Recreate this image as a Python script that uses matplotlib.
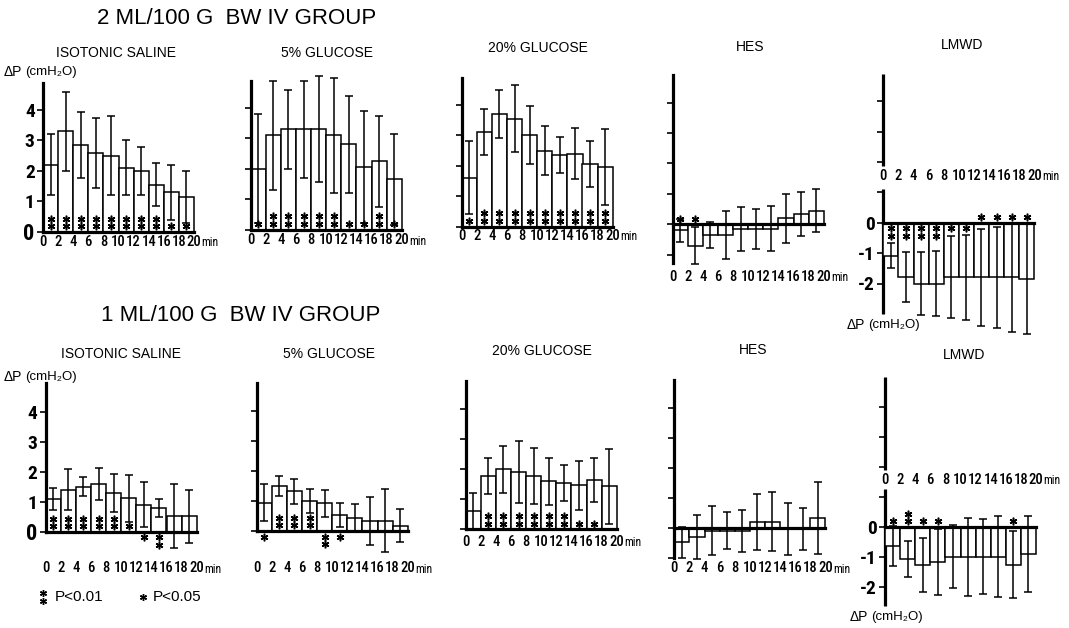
import matplotlib
matplotlib.use('Agg')
import matplotlib.pyplot as plt
from matplotlib.lines import Line2D
import numpy as np

W, H = 1069, 628
NUM = ['Roboto Condensed', 'DejaVu Sans']
TXT = ['Liberation Sans', 'DejaVu Sans']

# ---------------- data ----------------
bar_starts = [0, 2, 4, 6, 8, 10, 12, 14, 16, 18]
xtick_vals = [0, 2, 4, 6, 8, 10, 12, 14, 16, 18, 20]

row_titles = ['2 ML/100 G  BW IV GROUP', '1 ML/100 G  BW IV GROUP']
panel_titles = ['ISOTONIC SALINE', '5% GLUCOSE', '20% GLUCOSE', 'HES', 'LMWD']

# 2 ml/100 g group
sal2_mean = [2.2, 3.3, 2.85, 2.6, 2.5, 2.1, 2.0, 1.55, 1.3, 1.15]
sal2_sd = [1.0, 1.3, 1.1, 1.15, 1.3, 0.9, 0.8, 0.7, 0.9, 0.85]
sal2_sig = ['**', '**', '**', '**', '**', '**', '**', '**', '*', '*']
sal2_dir = [1, 1, 1, 1, 1, 1, 1, 1, 1, 1]

g5_2_mean = [2.0, 3.1, 3.3, 3.3, 3.3, 3.1, 2.8, 2.05, 2.25, 1.65]
g5_2_sd = [1.8, 1.8, 1.3, 1.6, 1.75, 1.9, 1.6, 1.85, 1.5, 1.5]
g5_2_sig = ['*', '**', '**', '**', '**', '**', '*', '*', '**', '*']
g5_2_dir = [1, 1, 1, 1, 1, 1, 1, 1, 1, 1]

g20_2_mean = [1.6, 3.1, 3.7, 3.55, 3.0, 2.5, 2.35, 2.4, 2.05, 1.95]
g20_2_sd = [1.2, 0.75, 0.8, 1.1, 0.95, 0.8, 0.6, 0.85, 0.75, 1.25]
g20_2_sig = ['*', '**', '**', '**', '**', '**', '**', '**', '**', '**']
g20_2_dir = [1, 1, 1, 1, 1, 1, 1, 1, 1, 1]

hes2_mean = [-0.2, -0.7, -0.35, -0.35, -0.15, -0.15, -0.15, 0.2, 0.35, 0.45]
hes2_sd = [0.37, 0.62, 0.42, 0.78, 0.73, 0.66, 0.74, 0.8, 0.72, 0.7]
hes2_sig = ['*', '*', '', '', '', '', '', '', '', '']
hes2_dir = [1, 1, 1, 1, 1, 1, 1, 1, 1, 1]

lm2_mean = [-1.08, -1.8, -2.0, -2.0, -1.8, -1.8, -1.8, -1.8, -1.8, -1.85]
lm2_sd = [0.42, 0.82, 1.05, 1.07, 1.35, 1.4, 1.6, 1.65, 1.8, 1.8]
lm2_sig = ['**', '**', '**', '**', '*', '*', '*', '*', '*', '*']
lm2_dir = [-1, -1, -1, -1, -1, -1, 1, 1, 1, 1]

# 1 ml/100 g group
sal1_mean = [1.1, 1.4, 1.5, 1.6, 1.28, 1.12, 0.9, 0.8, 0.52, 0.52]
sal1_sd = [0.37, 0.68, 0.32, 0.53, 0.63, 0.78, 0.75, 0.3, 1.07, 0.88]
sal1_sig = ['**', '**', '**', '**', '**', '*', '*', '**', '', '']
sal1_dir = [1, 1, 1, 1, 1, 1, -1, -1, 1, 1]

g5_1_mean = [0.95, 1.5, 1.32, 1.0, 0.92, 0.54, 0.45, 0.35, 0.35, 0.17]
g5_1_sd = [0.62, 0.32, 0.41, 0.4, 0.46, 0.39, 0.45, 0.8, 1.05, 0.55]
g5_1_sig = ['*', '**', '**', '**', '**', '*', '', '', '', '']
g5_1_dir = [-1, 1, 1, 1, -1, -1, 1, 1, 1, 1]

g20_1_mean = [0.62, 1.78, 2.0, 1.9, 1.78, 1.6, 1.53, 1.46, 1.64, 1.44]
g20_1_sd = [0.6, 0.6, 0.78, 1.03, 0.93, 0.78, 0.6, 0.82, 0.72, 1.25]
g20_1_sig = ['', '**', '**', '**', '**', '**', '**', '*', '*', '']
g20_1_dir = [1, 1, 1, 1, 1, 1, 1, 1, 1, 1]

hes1_mean = [-0.47, -0.29, -0.08, -0.08, -0.08, 0.22, 0.22, -0.02, -0.02, 0.33]
hes1_sd = [0.52, 0.74, 0.82, 0.62, 0.7, 0.93, 0.98, 0.86, 0.7, 1.2]
hes1_sig = ['', '', '', '', '', '', '', '', '', '']
hes1_dir = [1, 1, 1, 1, 1, 1, 1, 1, 1, 1]

lm1_mean = [-0.63, -1.07, -1.27, -1.18, -1.0, -1.0, -1.0, -1.0, -1.27, -0.92]
lm1_sd = [0.67, 0.61, 0.9, 1.1, 1.05, 1.3, 1.25, 1.35, 1.12, 1.27]
lm1_sig = ['*', '**', '*', '*', '', '', '', '', '*', '']
lm1_dir = [1, 1, 1, 1, 1, 1, 1, 1, 1, 1]

pos_ticks = [4, 3, 2, 1, 0]
pos_labels = ['4', '3', '2', '1', '0']
hes_ticks = [4, 3, 2, 1, 0, -1]
lm_ticks = [4, 3, 2, 1, 0, -1, -2]
lm_labels = ['', '', '', '', '0', '-1', '-2']

# ---------------- layout ----------------
SX = 7.55          # px per minute
YMIN, YMAX = -4.0, 5.2

fig = plt.figure(figsize=(W / 100, H / 100), dpi=100)


def fx(px):
    return px / W


def fy(py):
    return 1 - py / H


def panel(x0, zero, sy, mean, sd, sig, sdir, spine, ticks, labels,
          xlab_y, kind='pos', gap=None):
    left = x0 / W
    width = 23 * SX / W
    bottom = 1 - (zero + (-YMIN) * sy) / H
    height = (YMAX - YMIN) * sy / H
    ax = fig.add_axes([left, bottom, width, height])
    ax.patch.set_visible(False)
    ax.set_xlim(0, 23)
    ax.set_ylim(YMIN, YMAX)
    for s in ['top', 'right']:
        ax.spines[s].set_visible(False)
    ax.spines['bottom'].set_position(('data', 0))
    ax.spines['bottom'].set_bounds(0, 20)
    ax.spines['bottom'].set_linewidth(2.3)
    ax.spines['bottom'].set_zorder(2.5)
    if gap is None:
        ax.spines['left'].set_bounds(*spine)
        ax.spines['left'].set_linewidth(2.3)
    else:
        ax.spines['left'].set_visible(False)
        ax.plot([0, 0], [gap[1], spine[1]], color='black', lw=2.3,
                solid_capstyle='butt', clip_on=False)
        ax.plot([0, 0], [spine[0], gap[0]], color='black', lw=2.3,
                solid_capstyle='butt', clip_on=False)
    ax.set_xticks([])
    ax.set_yticks(ticks)
    ax.set_yticklabels(labels, fontfamily=NUM, fontsize=14,
                       fontweight='bold')
    for t in ax.get_yticklabels():
        if t.get_text() == '0' and kind == 'pos':
            t.set_fontsize(16)
    ax.tick_params(axis='y', direction='out', length=4, width=1.2, pad=2)

    x = np.array(bar_starts)
    ax.bar(x, mean, width=2, align='edge', facecolor='white',
           edgecolor='black', lw=1.1, zorder=2, clip_on=False)
    eb = ax.errorbar(x + 1, mean, yerr=sd, fmt='none', ecolor='black',
                     elinewidth=1.1, capsize=3, capthick=1.1, zorder=3)
    for child in eb.get_children():
        child.set_clip_on(False)

    for i, (s, d) in enumerate(zip(sig, sdir)):
        for k in range(len(s)):
            ax.plot([x[i] + 1], [d * (0.19 + 0.24 * k)], marker=(6, 2, 0),
                    ms=5.5, mew=1.1, color='black', ls='none', zorder=4,
                    clip_on=False)

    for t in xtick_vals:
        ax.text(t, xlab_y, str(t), ha='center', va='center',
                fontfamily=NUM, fontsize=10.5, fontweight='medium')
    ax.text(21.0, xlab_y - 0.03, 'min', ha='left', va='center',
            fontfamily=NUM, fontsize=8.5)
    return ax


# top row (2 ml)
panel(43, 231.7, 30.4, sal2_mean, sal2_sd, sal2_sig, sal2_dir,
      (0, 4.9), pos_ticks, pos_labels, -0.33)
panel(250.7, 229.5, 30.4, g5_2_mean, g5_2_sd, g5_2_sig, g5_2_dir,
      (0, 4.9), pos_ticks, [''] * 5, -0.36)
panel(461.7, 226.5, 30.4, g20_2_mean, g20_2_sd, g20_2_sig, g20_2_dir,
      (0, 4.9), pos_ticks, [''] * 5, -0.3)
panel(672.7, 224.3, 30.4, hes2_mean, hes2_sd, hes2_sig, hes2_dir,
      (-1.28, 4.9), hes_ticks, [''] * 6, -1.72, kind='hes')
panel(883.3, 222.7, 30.4, lm2_mean, lm2_sd, lm2_sig, lm2_dir,
      (-3.0, 4.9), lm_ticks, lm_labels, 1.55, kind='lm', gap=(1.1, 1.85))

# bottom row (1 ml)
panel(45.7, 531.7, 30.0, sal1_mean, sal1_sd, sal1_sig, sal1_dir,
      (0, 4.95), pos_ticks, pos_labels, -1.22)
panel(256.7, 531.0, 30.0, g5_1_mean, g5_1_sd, g5_1_sig, g5_1_dir,
      (0, 4.95), pos_ticks, [''] * 5, -1.24)
panel(465.7, 529.3, 30.0, g20_1_mean, g20_1_sd, g20_1_sig, g20_1_dir,
      (0, 4.95), pos_ticks, [''] * 5, -0.41)
panel(674.3, 528.3, 30.0, hes1_mean, hes1_sd, hes1_sig, hes1_dir,
      (-0.98, 4.95), hes_ticks, [''] * 6, -1.33, kind='hes')
panel(885, 526.7, 30.0, lm1_mean, lm1_sd, lm1_sig, lm1_dir,
      (-2.65, 5.0), lm_ticks, lm_labels, 1.56, kind='lm', gap=(1.27, 1.9))

# ---------------- texts ----------------
fig.text(fx(97), fy(18), row_titles[0], ha='left', va='center',
         fontfamily=TXT, fontsize=16)
fig.text(fx(101), fy(315), row_titles[1], ha='left', va='center',
         fontfamily=TXT, fontsize=16)

top_title_pos = [(116, 53), (327, 53), (538, 48), (750, 47), (962, 45)]
bot_title_pos = [(121, 354), (329, 354), (542, 351), (753, 350), (964, 355)]
for t, (px, py) in zip(panel_titles, top_title_pos):
    fig.text(fx(px), fy(py), t, ha='center', va='center', fontfamily=TXT,
             fontsize=10)
for t, (px, py) in zip(panel_titles, bot_title_pos):
    fig.text(fx(px), fy(py), t, ha='center', va='center', fontfamily=TXT,
             fontsize=10)


def dp_label(px, py):
    fig.text(fx(px), fy(py), 'ΔP', ha='left', va='center', fontfamily=TXT,
             fontsize=10)
    fig.text(fx(px + 21), fy(py), '(cmH₂O)', ha='left', va='center',
             fontfamily=TXT, fontsize=9.5)


dp_label(4, 72)
dp_label(4, 377)
dp_label(847, 325)
dp_label(850, 617)

# legend
for (px, py) in [(43, 593), (43, 601), (143, 597)]:
    fig.add_artist(Line2D([fx(px)], [fy(py)], marker=(6, 2, 0), ms=5, mew=1.0,
                          color='black', ls='none', transform=fig.transFigure))
fig.text(fx(55), fy(597), 'P<0.01', ha='left', va='center',
         fontfamily=TXT, fontsize=11)
fig.text(fx(153), fy(597), 'P<0.05', ha='left', va='center',
         fontfamily=TXT, fontsize=11)

fig.savefig('out.png', dpi=100)
